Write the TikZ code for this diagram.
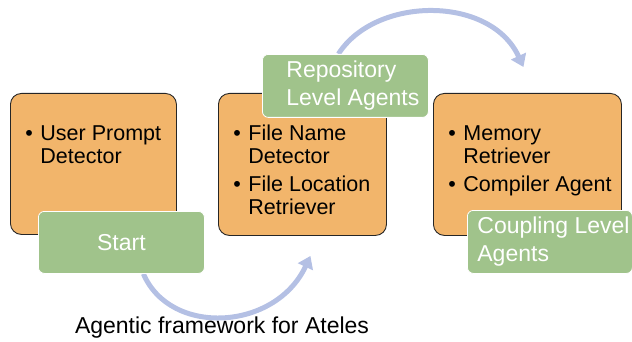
\documentclass[tikz,border=0pt]{standalone}
\usepackage{fontspec}
\setmainfont{Liberation Sans}
\usetikzlibrary{arrows.meta,backgrounds}

\definecolor{boxorange}{RGB}{242,181,107}
\definecolor{levelgreen}{RGB}{160,195,139}
\definecolor{flowblue}{RGB}{180,192,228}

\newcommand{\agentlist}[3]{\begin{minipage}[t][#2][t]{#1}\leftskip=15pt\parskip=5pt\fontsize{21.5}{23}\selectfont#3\end{minipage}}
\newcommand{\agentitem}[1]{\par\noindent\hangindent=15pt\hangafter=1\makebox[15pt][l]{\textbullet}#1}
\newcommand{\firstitem}[1]{\agentitem{\rule{0pt}{47pt}#1}}
\newcommand{\levellines}[3]{\parbox{#1}{\raggedright\leftskip=#2\relax#3}}

\tikzset{
	agentbox/.style={draw=black!85, line width=0.9pt, fill=boxorange, rounded corners=11pt, inner sep=0pt, anchor=north west},
	levelbox/.style={draw=white, line width=0.8pt, fill=levelgreen, rounded corners=6pt, inner sep=0pt, text=white, font=\fontsize{23}{28}\selectfont, anchor=north west},
	flow/.style={flowblue, line width=5pt, -{Triangle[length=12pt,width=16pt]}}
}

\begin{document}
\begin{tikzpicture}[x=1pt,y=1pt]
	\useasboundingbox (0,0) rectangle (632,-342);
	\node[agentbox] (prompt) at (10,-93) {\agentlist{166pt}{141pt}{\firstitem{User Prompt\\Detector}}};
	\node[agentbox] (files) at (218,-93) {\agentlist{168pt}{142pt}{\firstitem{File Name\\Detector}\agentitem{File Location\\Retriever}}};
	\node[agentbox] (coupled) at (433,-93) {\agentlist{188pt}{142pt}{\firstitem{Memory\\Retriever}\agentitem{Compiler Agent}}};
	\node[levelbox, minimum width=166pt, minimum height=62pt] (start) at (38,-211) {Start};
	\node[levelbox, minimum width=166pt, minimum height=63pt] (repo) at (262,-54) {\levellines{154pt}{18pt}{Repository\\Level Agents}};
	\node[levelbox, minimum width=165pt, minimum height=63pt] (coupling) at (467,-210) {\levellines{164pt}{9.5pt}{Coupling Level\\Agents}};
	\begin{scope}[on background layer]
		\draw[flow] ([xshift=22pt]start.south) .. controls +(27,-63) and +(-35,-75) .. ([xshift=8pt,yshift=-20pt]files.south);
		\draw[flow] ([xshift=-7pt]repo.north) .. controls +(37,58) and +(-33,72) .. ([xshift=-4pt,yshift=26pt]coupled.north);
	\end{scope}
	\node[anchor=base, font=\fontsize{23}{28}\selectfont] (caption) at (222,-333) {Agentic framework for Ateles};
\end{tikzpicture}
\end{document}
